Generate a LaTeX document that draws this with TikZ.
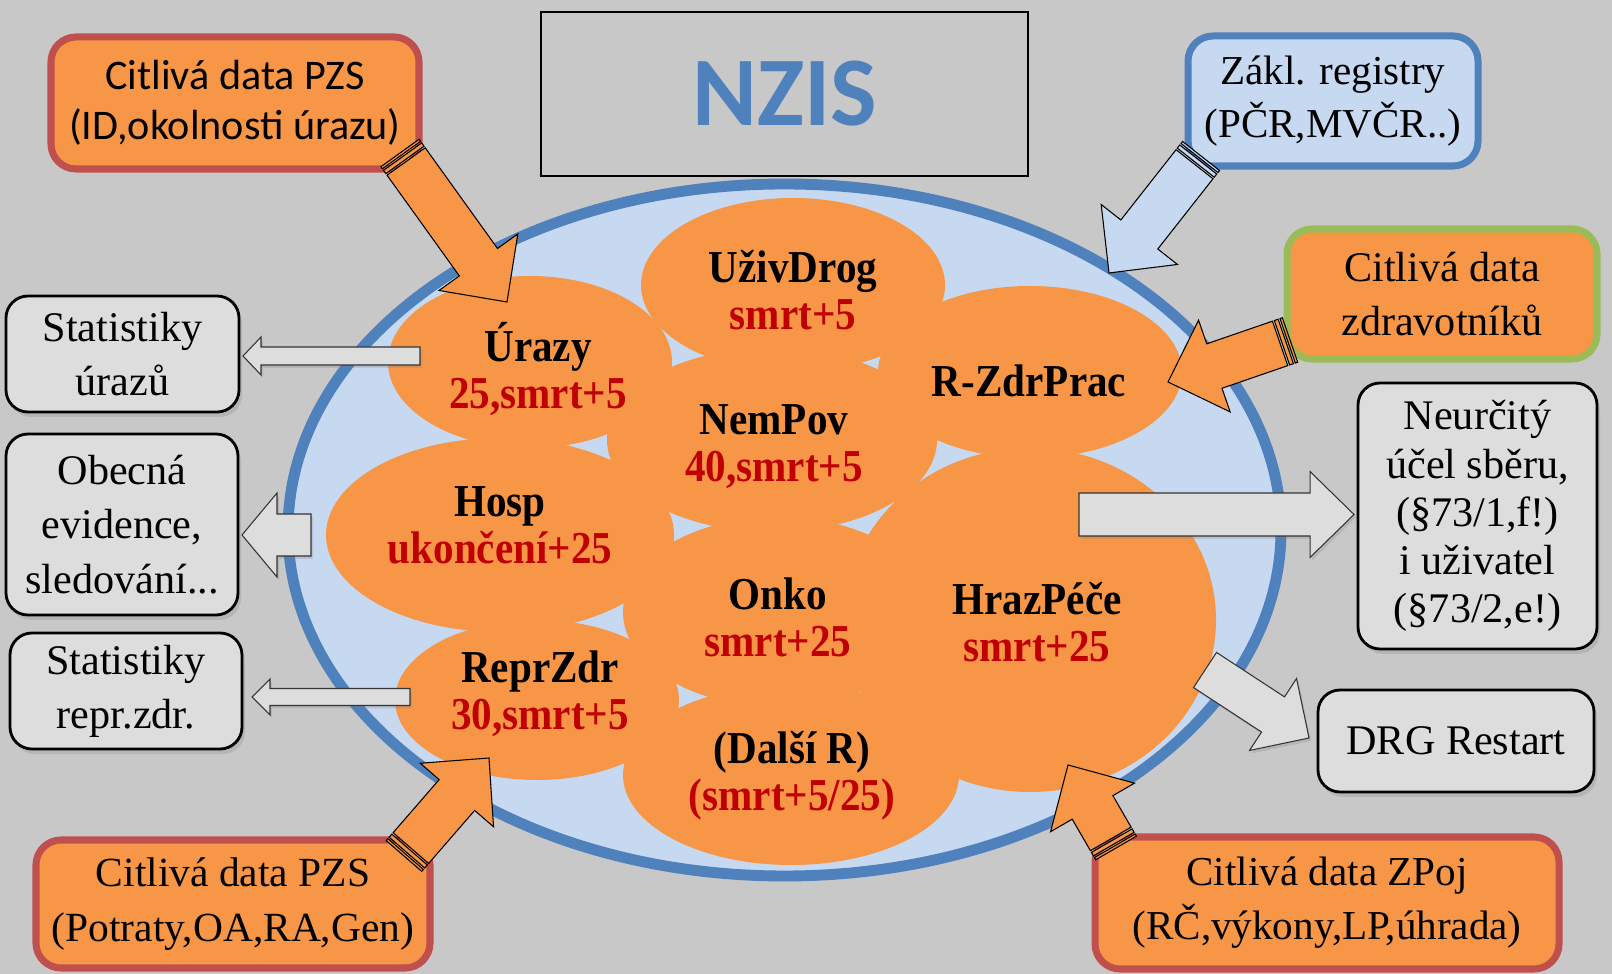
\documentclass[tikz,border=0pt]{standalone}
\usepackage{fontspec}
\setmainfont{Liberation Serif}
\newfontfamily\calfont{Carlito}
\newfontfamily\blobfont{Liberation Serif}[UprightFont=* Bold, FakeStretch=0.9]
\usetikzlibrary{calc,shadows}

\definecolor{bggray}{RGB}{200,200,200}
\definecolor{boxgray}{RGB}{221,221,221}
\definecolor{nzisblue}{RGB}{79,129,189}
\definecolor{lightblue}{RGB}{198,217,241}
\definecolor{pzsorange}{RGB}{247,150,70}
\definecolor{pzsred}{RGB}{192,80,77}
\definecolor{zdrgreen}{RGB}{155,187,89}
\definecolor{darkred}{RGB}{192,0,0}

% block arrow: style, tail, tip, shaft half width, head half width, head length
\newcommand{\blockarrow}[6]{%
  \draw[#1] ($(#2)!#4!90:(#3)$)
    -- ($(#3)!#6!(#2)!#4!90:(#3)$)
    -- ($(#3)!#6!(#2)!#5!90:(#3)$)
    -- (#3)
    -- ($(#3)!#6!(#2)!#5!-90:(#3)$)
    -- ($(#3)!#6!(#2)!#4!-90:(#3)$)
    -- ($(#2)!#4!-90:(#3)$) -- cycle;}
% one stripe at the tail: style, tail, tip, from, to, half width
\newcommand{\tailstripe}[6]{%
  \draw[#1] ($(#2)!#4!(#3)!#6!90:(#3)$) -- ($(#2)!#5!(#3)!#6!90:(#3)$)
    -- ($(#2)!#5!(#3)!#6!-90:(#3)$) -- ($(#2)!#4!(#3)!#6!-90:(#3)$) -- cycle;}
% striped arrow into the NZIS cloud: style, tail, tip
\newcommand{\stripedarrow}[3]{%
  \tailstripe{#1}{#2}{#3}{0cm}{0.025cm}{0.235cm}
  \tailstripe{#1}{#2}{#3}{0.045cm}{0.085cm}{0.235cm}
  \coordinate (#2-body) at ($(#2)!0.105cm!(#3)$);
  \blockarrow{#1}{#2-body}{#3}{0.235cm}{0.485cm}{0.49cm}}

\tikzset{
  redbox/.style={draw=pzsred, line width=2pt, fill=pzsorange, rounded corners=0.25cm,
    align=center, inner sep=0pt},
  graybox/.style={draw=black, line width=0.8pt, fill=boxgray, rounded corners=0.22cm,
    align=center, inner sep=0pt,
    drop shadow={shadow xshift=0.03cm, shadow yshift=-0.05cm, opacity=0.25}},
  blob/.style={fill=pzsorange},
  blobtext/.style={align=center, font=\blobfont\fontsize{13}{13.4}\selectfont},
  grayarrow/.style={draw=black!80, line width=0.3pt, fill=boxgray,
    drop shadow={shadow xshift=0.02cm, shadow yshift=-0.03cm, opacity=0.25}},
  orangearrow/.style={draw=black, line width=0.3pt, fill=pzsorange},
  bluearrow/.style={draw=black, line width=0.3pt, fill=lightblue},
}

\begin{document}
\begin{tikzpicture}
  \fill[bggray] (0,0) rectangle (16.12,-9.74);
  \useasboundingbox (0,0) rectangle (16.12,-9.74);

  % title
  \node[draw=black, line width=0.6pt, minimum width=4.87cm, minimum height=1.64cm,
    font=\calfont\bfseries\fontsize{28}{30}\selectfont, text=nzisblue] (nzis) at (7.845,-0.94) {NZIS};

  % the register cloud
  \draw[nzisblue, line width=3.1pt, fill=lightblue] (7.845,-5.30) ellipse [x radius=4.965, y radius=3.46];
  \fill[blob] (5.30,-3.62) ellipse [x radius=1.42, y radius=0.86];
  \fill[blob] (7.93,-2.85) ellipse [x radius=1.52, y radius=0.87];
  \fill[blob] (10.30,-3.72) ellipse [x radius=1.52, y radius=0.86];
  \fill[blob] (7.72,-4.40) ellipse [x radius=1.65, y radius=0.92];
  \fill[blob] (5.00,-5.35) ellipse [x radius=1.74, y radius=0.97];
  \fill[blob] (10.30,-6.20) ellipse [x radius=1.86, y radius=1.72];
  \fill[blob] (7.78,-6.12) ellipse [x radius=1.55, y radius=0.95];
  \fill[blob] (5.37,-7.00) ellipse [x radius=1.42, y radius=0.80];
  \fill[blob] (7.91,-7.75) ellipse [x radius=1.68, y radius=0.90];

  \node[blobtext] (urazy) at (5.38,-3.685) {Úrazy\\\textcolor{darkred}{25,smrt+5}};
  \node[blobtext] (drog) at (7.93,-2.905) {UživDrog\\\textcolor{darkred}{smrt+5}};
  \node[blobtext] (zdrprac) at (10.29,-3.81) {R-ZdrPrac};
  \node[blobtext] (nempov) at (7.74,-4.465) {NemPov\\\textcolor{darkred}{40,smrt+5}};
  \node[blobtext] (hosp) at (5.00,-5.255) {Hosp\\\textcolor{darkred}{ukončení+25}};
  \node[blobtext] (onko) at (7.78,-6.175) {Onko\\\textcolor{darkred}{smrt+25}};
  \node[blobtext] (hraz) at (10.37,-6.22) {HrazPéče\\\textcolor{darkred}{smrt+25}};
  \node[blobtext] (repr) at (5.40,-6.94) {ReprZdr\\\textcolor{darkred}{30,smrt+5}};
  \node[blobtext] (dalsi) at (7.92,-7.76) {(Další R)\\\textcolor{darkred}{(smrt+5/25)}};

  % sources
  \node[redbox, minimum width=3.68cm, minimum height=1.32cm,
    font=\calfont\fontsize{12}{14.2}\selectfont] (pzsA) at (2.35,-1.03) {Citlivá data PZS\\(ID,okolnosti úrazu)};
  \node[redbox, draw=nzisblue, fill=lightblue, minimum width=2.90cm, minimum height=1.30cm,
    font=\fontsize{11.7}{15.1}\selectfont] (zakl) at (13.33,-1.01) {Zákl. registry\\(PČR,MVČR..)};
  \node[redbox, draw=zdrgreen, minimum width=3.10cm, minimum height=1.30cm,
    font=\fontsize{12}{15.2}\selectfont] (zdrav) at (14.42,-2.94) {Citlivá data\\zdravotníků};
  \node[redbox, minimum width=3.94cm, minimum height=1.28cm,
    font=\fontsize{11.8}{15.4}\selectfont] (pzsB) at (2.33,-9.04) {Citlivá data PZS\\(Potraty,OA,RA,Gen)};
  \node[redbox, minimum width=4.64cm, minimum height=1.32cm,
    font=\fontsize{11.7}{15.4}\selectfont] (zpoj) at (13.27,-9.03) {Citlivá data ZPoj\\(RČ,výkony,LP,úhrada)};

  % outputs
  \node[graybox, minimum width=2.33cm, minimum height=1.16cm,
    font=\fontsize{12}{15.4}\selectfont] (stUr) at (1.225,-3.54) {Statistiky\\úrazů};
  \node[graybox, minimum width=2.32cm, minimum height=1.81cm,
    font=\fontsize{12}{15.6}\selectfont] (obec) at (1.22,-5.245) {Obecná\\evidence,\\sledování...};
  \node[graybox, minimum width=2.32cm, minimum height=1.16cm,
    font=\fontsize{12}{15.4}\selectfont] (stRe) at (1.26,-6.91) {Statistiky\\repr.zdr.};
  \node[graybox, minimum width=2.39cm, minimum height=2.66cm,
    font=\fontsize{12}{13.7}\selectfont] (neur) at (14.775,-5.16) {Neurčitý\\účel sběru,\\(§73/1,f!)\\i uživatel\\(§73/2,e!)};
  \node[graybox, minimum width=2.76cm, minimum height=1.02cm,
    font=\fontsize{12}{14}\selectfont] (drg) at (14.56,-7.41) {DRG Restart};

  % arrow ends
  \coordinate (a1s) at (4.00,-1.53);  \coordinate (a1e) at (5.07,-3.02);
  \coordinate (a2s) at (12.01,-1.56); \coordinate (a2e) at (11.09,-2.73);
  \coordinate (a3s) at (12.90,-3.40); \coordinate (a3e) at (11.68,-3.82);
  \coordinate (a7s) at (4.04,-8.56);  \coordinate (a7e) at (4.89,-7.58);
  \coordinate (a8s) at (11.16,-8.48); \coordinate (a8e) at (10.68,-7.65);
  \coordinate (a4s) at (4.20,-3.56);  \coordinate (a4e) at (2.43,-3.56);
  \coordinate (a5s) at (3.11,-5.35);  \coordinate (a5e) at (2.42,-5.35);
  \coordinate (a6s) at (4.10,-6.97);  \coordinate (a6e) at (2.52,-6.97);
  \coordinate (a9s) at (10.79,-5.145); \coordinate (a9e) at (13.54,-5.145);
  \coordinate (a10s) at (12.05,-6.70); \coordinate (a10e) at (13.09,-7.38);

  % data flowing in
  \stripedarrow{orangearrow}{a1s}{a1e}
  \stripedarrow{bluearrow}{a2s}{a2e}
  \stripedarrow{orangearrow}{a3s}{a3e}
  \stripedarrow{orangearrow}{a7s}{a7e}
  \stripedarrow{orangearrow}{a8s}{a8e}

  % data flowing out
  \blockarrow{grayarrow}{a4s}{a4e}{0.09cm}{0.19cm}{0.18cm}
  \blockarrow{grayarrow}{a5s}{a5e}{0.21cm}{0.42cm}{0.35cm}
  \blockarrow{grayarrow}{a6s}{a6e}{0.085cm}{0.18cm}{0.18cm}
  \blockarrow{grayarrow}{a9s}{a9e}{0.215cm}{0.43cm}{0.44cm}
  \blockarrow{grayarrow}{a10s}{a10e}{0.21cm}{0.43cm}{0.43cm}
\end{tikzpicture}
\end{document}
